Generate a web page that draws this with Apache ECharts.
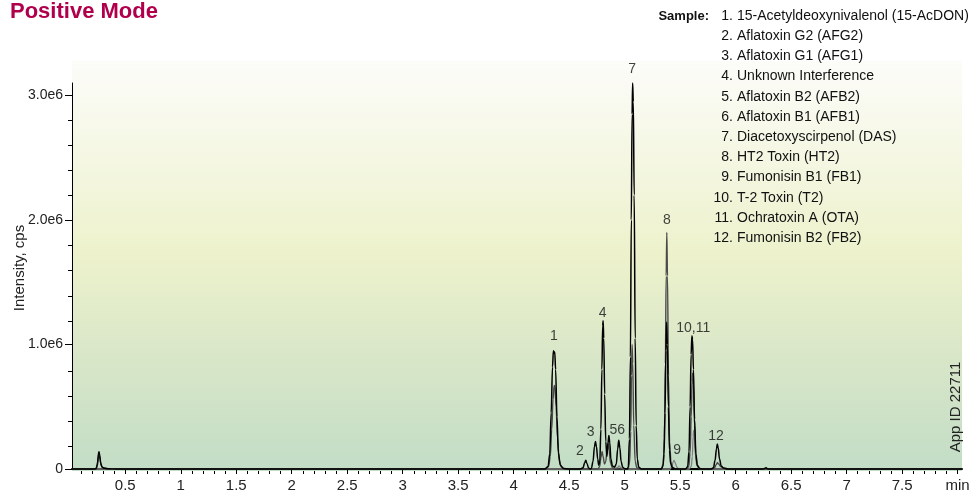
<!DOCTYPE html>
<html><head><meta charset="utf-8">
<script src="https://cdn.jsdelivr.net/npm/echarts@6.0.0/dist/echarts.min.js"></script>
<style>html,body{margin:0;padding:0;background:#fff}#c{width:977px;height:493px}</style>
</head><body><div id="c"></div>
<script>
// ---------- data ----------
const traceA = [
  [0.02,0],[0.22,0],[0.24,5e3],[0.25,5e4],[0.258,1.2e5],[0.263,1.38e5],[0.27,1.1e5],[0.278,5e4],[0.29,1.5e4],[0.31,6e3],[0.35,2e3],[0.42,0],
  [4.28,0],[4.31,2e4],[4.325,1.2e5],[4.338,4.5e5],[4.35,8.2e5],[4.358,9.5e5],[4.364,9.3e5],[4.37,9.4e5],[4.378,8e5],[4.39,4.2e5],[4.403,1.3e5],[4.42,3e4],[4.45,5e3],[4.5,0],
  [4.6,0],[4.625,1e4],[4.64,5e4],[4.65,7e4],[4.66,4.5e4],[4.675,8e3],[4.69,0],
  [4.70,5e3],[4.715,6e4],[4.728,1.8e5],[4.737,2.2e5],[4.746,1.8e5],[4.757,8e4],[4.767,3e4],
  [4.776,6e4],[4.786,3.2e5],[4.795,8e5],[4.802,1.15e6],[4.806,1.19e6],[4.812,1.05e6],[4.82,6e5],[4.83,2.2e5],[4.84,1e5],
  [4.85,2.1e5],[4.858,2.7e5],[4.866,2.1e5],[4.876,8e4],[4.89,2.5e4],[4.91,1.5e4],
  [4.925,4e4],[4.937,1.6e5],[4.947,2.3e5],[4.957,1.7e5],[4.968,6e4],[4.982,1.5e4],[5.0,3e3],[5.025,0],
  [5.033,1.5e4],[5.043,2.4e5],[5.052,9e5],[5.06,2.0e6],[5.067,2.85e6],[5.072,3.1e6],[5.078,2.95e6],[5.086,2.2e6],[5.095,1.05e6],[5.104,3.5e5],[5.114,8e4],[5.127,1.5e4],[5.15,0],
  [5.33,0],[5.345,2e4],[5.355,1.2e5],[5.364,4.5e5],[5.372,9.5e5],[5.378,1.18e6],[5.385,1e6],[5.394,5e5],[5.404,1.5e5],[5.415,4e4],[5.43,1e4],[5.46,0],
  [5.55,0],[5.568,2e4],[5.58,1.4e5],[5.59,5e5],[5.599,9.2e5],[5.606,1.07e6],[5.612,1.04e6],[5.62,8e5],[5.63,4e5],[5.642,1.2e5],[5.655,3e4],[5.675,5e3],[5.7,0],
  [5.78,0],[5.8,1e4],[5.815,7e4],[5.827,1.6e5],[5.835,2e5],[5.843,1.7e5],[5.855,8e4],[5.87,2.5e4],[5.89,8e3],[5.93,0],
  [6.25,0],[6.275,1e4],[6.29,0],[8.04,0]
];
const traceB = [
  [0.02,0],[0.23,0],[0.25,3e4],[0.258,9e4],[0.265,1.1e5],[0.272,8e4],[0.282,3e4],[0.3,1e4],[0.34,2e3],[0.4,0],
  [4.29,0],[4.315,2e4],[4.33,1e5],[4.343,3.2e5],[4.355,5.6e5],[4.365,6.7e5],[4.372,6.6e5],[4.382,5e5],[4.395,2.5e5],[4.41,7e4],[4.43,1.5e4],[4.46,0],
  [4.76,0],[4.775,2e4],[4.788,1e5],[4.797,1.4e5],[4.806,1e5],[4.818,4e4],[4.83,6e4],[4.84,1.4e5],[4.85,2.1e5],[4.86,1.5e5],[4.872,5e4],[4.89,1e4],[4.92,0],
  [5.03,0],[5.045,5e4],[5.055,3e5],[5.062,7.5e5],[5.067,1.0e6],[5.073,8.5e5],[5.082,3.5e5],[5.095,6e4],[5.11,1e4],[5.13,0],
  [5.33,0],[5.348,4e4],[5.358,2.5e5],[5.367,8.5e5],[5.374,1.55e6],[5.38,1.9e6],[5.386,1.55e6],[5.395,7.5e5],[5.405,2.2e5],[5.418,5e4],[5.435,1e4],[5.46,0],
  [5.56,0],[5.578,2e4],[5.59,1.3e5],[5.6,4.2e5],[5.608,7e5],[5.613,7.7e5],[5.62,6.8e5],[5.63,3.5e5],[5.642,1e5],[5.655,2.5e4],[5.68,0],
  [5.79,0],[5.81,1e4],[5.825,3.5e4],[5.836,5e4],[5.848,4e4],[5.865,2e4],[5.89,8e3],[5.93,0],[8.04,0]
];
const traceC = [
  [0.02,0],[4.9,0],[4.935,1e4],[4.95,2.5e4],[4.965,1e4],[4.99,0],
  [5.41,0],[5.425,2e4],[5.438,6e4],[5.445,7e4],[5.455,5e4],[5.47,1.5e4],[5.49,0],
  [5.58,0],[5.6,2e4],[5.61,1e5],[5.617,2.6e5],[5.622,3.1e5],[5.628,2.6e5],[5.637,1.1e5],[5.65,3e4],[5.67,5e3],[5.7,0],[8.04,0]
];
const peakLabels = ['1','2','3','4','56','7','8','9','10,11','12'];
const peakLabelX = [4.362,4.597,4.693,4.802,4.933,5.068,5.38,5.474,5.618,5.823];
const peakLabelY = [1.07e6,0.14e6,0.30e6,1.25e6,0.315e6,3.21e6,2.0e6,0.155e6,1.134e6,0.267e6];
const sampleNums = ['1.','2.','3.','4.','5.','6.','7.','8.','9.','10.','11.','12.'];
const sampleNames = [
  '15-Acetyldeoxynivalenol (15-AcDON)','Aflatoxin G2 (AFG2)','Aflatoxin G1 (AFG1)','Unknown Interference',
  'Aflatoxin B2 (AFB2)','Aflatoxin B1 (AFB1)','Diacetoxyscirpenol (DAS)','HT2 Toxin (HT2)',
  'Fumonisin B1 (FB1)','T-2 Toxin (T2)','Ochratoxin A (OTA)','Fumonisin B2 (FB2)'
];
const xMajorTicks = [0.5,1,1.5,2,2.5,3,3.5,4,4.5,5,5.5,6,6.5,7,7.5,8];
const xMinorTicks = [0.1,0.2,0.3,0.4,0.6,0.7,0.8,0.9,1.1,1.2,1.3,1.4,1.6,1.7,1.8,1.9,2.1,2.2,2.3,2.4,2.6,2.7,2.8,2.9,
  3.1,3.2,3.3,3.4,3.6,3.7,3.8,3.9,4.1,4.2,4.3,4.4,4.6,4.7,4.8,4.9,5.1,5.2,5.3,5.4,5.6,5.7,5.8,5.9,
  6.1,6.2,6.3,6.4,6.6,6.7,6.8,6.9,7.1,7.2,7.3,7.4,7.6,7.7,7.8,7.9];
const yMajorTicks = [0,1e6,2e6,3e6];
const yMinorTicks = [2e5,4e5,6e5,8e5,1.2e6,1.4e6,1.6e6,1.8e6,2.2e6,2.4e6,2.6e6,2.8e6,3.0e6];

// ---------- chart ----------
const FONT = "'Liberation Sans', Arial, Helvetica, sans-serif";
// use a narrow bold face for the title if one is installed
function hasFont(name){
  const c = document.createElement('canvas').getContext('2d');
  const s = 'Positive Mode abcdefghijklm 0123456789';
  c.font = '40px monospace'; const w0 = c.measureText(s).width;
  c.font = "40px '"+name+"', monospace"; const w1 = c.measureText(s).width;
  return Math.abs(w0-w1) > 0.5;
}
const titleFont = hasFont('Liberation Sans Narrow') ? "bold 26px 'Liberation Sans Narrow', sans-serif" : "bold 22px "+FONT;

const chart = echarts.init(document.getElementById('c'), null, {renderer:'canvas'});
const gridRect = {left:72, right:15, top:83, bottom:22};
const graphics = [
  {type:'rect', z:-100, silent:true, shape:{x:72,y:61,width:890,height:410},
   style:{fill:new echarts.graphic.LinearGradient(0,0,0,1,[
     {offset:0,color:'#fcfcf9'},{offset:0.47,color:'#edf2cc'},{offset:0.73,color:'#d8e6c8'},{offset:1,color:'#c2ddc6'}])}},
  {type:'text', x:10, y:12, style:{text:'Positive Mode', fill:'#b0004c', font:titleFont, verticalAlign:'middle'}},
  {type:'text', x:20, y:268, rotation:Math.PI/2, style:{text:'Intensity, cps', fill:'#222', font:'15px '+FONT, align:'center', verticalAlign:'middle'}},
  {type:'text', x:956, y:407, rotation:Math.PI/2, style:{text:'App ID 22711', fill:'#222', font:'15px '+FONT, align:'center', verticalAlign:'middle'}},
  {type:'text', x:709, y:16, style:{text:'Sample:', fill:'#111', font:'bold 13px '+FONT, align:'right', verticalAlign:'middle'}}
];
sampleNums.forEach((n,i)=>{
  const y = 16 + i*20.2;
  graphics.push({type:'text', x:733, y:y, style:{text:n, fill:'#111', font:'14px '+FONT, align:'right', verticalAlign:'middle'}});
  graphics.push({type:'text', x:737, y:y, style:{text:sampleNames[i], fill:'#111', font:'14px '+FONT, align:'left', verticalAlign:'middle'}});
});

const lineSeries = (data,color,w,z)=>({type:'line', data, xAxisIndex:0, yAxisIndex:0, showSymbol:false, symbol:'none',
  smooth:0.35, smoothMonotone:'x', clip:false, z, lineStyle:{color, width:w}, animation:false});

chart.setOption({
  animation:false,
  graphic: graphics,
  grid:[Object.assign({}, gridRect), Object.assign({}, gridRect)],
  xAxis:[
    {type:'value', gridIndex:0, min:0.02, max:8.04,
     axisLine:{show:true, onZero:false, lineStyle:{color:'#000', width:2}},
     axisTick:{show:true, customValues:xMajorTicks, length:5, lineStyle:{color:'#000', width:1}},
     axisLabel:{show:true, customValues:xMajorTicks, margin:9, color:'#222', fontSize:15, fontFamily:FONT,
       formatter:v=> Math.abs(v-8)<1e-9 ? 'min' : String(v)},
     splitLine:{show:false}},
    {type:'value', gridIndex:1, min:0.02, max:8.04,
     axisLine:{show:false},
     axisTick:{show:true, customValues:xMinorTicks, length:3, lineStyle:{color:'#000', width:1}},
     axisLabel:{show:false}, splitLine:{show:false}}
  ],
  yAxis:[
    {type:'value', gridIndex:0, min:0, max:3.1e6,
     axisLine:{show:true, onZero:false, lineStyle:{color:'#000', width:1}},
     axisTick:{show:true, customValues:yMajorTicks, length:7, lineStyle:{color:'#000', width:1}},
     axisLabel:{show:true, customValues:yMajorTicks, margin:9, color:'#222', fontSize:14, fontFamily:FONT,
       formatter:v=> v===0 ? '0' : (v/1e6).toFixed(1)+'e6'},
     splitLine:{show:false}},
    {type:'value', gridIndex:1, min:0, max:3.1e6,
     axisLine:{show:false},
     axisTick:{show:true, customValues:yMinorTicks, length:4, lineStyle:{color:'#000', width:1}},
     axisLabel:{show:false}, splitLine:{show:false}}
  ],
  series:[
    lineSeries(traceC,'#808080',1.3,2),
    lineSeries(traceB,'#4a4a4a',1.4,3),
    lineSeries(traceA,'#000000',1.5,4),
    {type:'scatter', xAxisIndex:0, yAxisIndex:0, symbolSize:0, clip:false, silent:true, z:10,
     data: peakLabels.map((t,i)=>({name:t, value:[peakLabelX[i], peakLabelY[i]]})),
     label:{show:true, position:'inside', formatter:p=>p.name, color:'#111', fontSize:14, fontFamily:FONT}}
  ]
});
</script></body></html>
